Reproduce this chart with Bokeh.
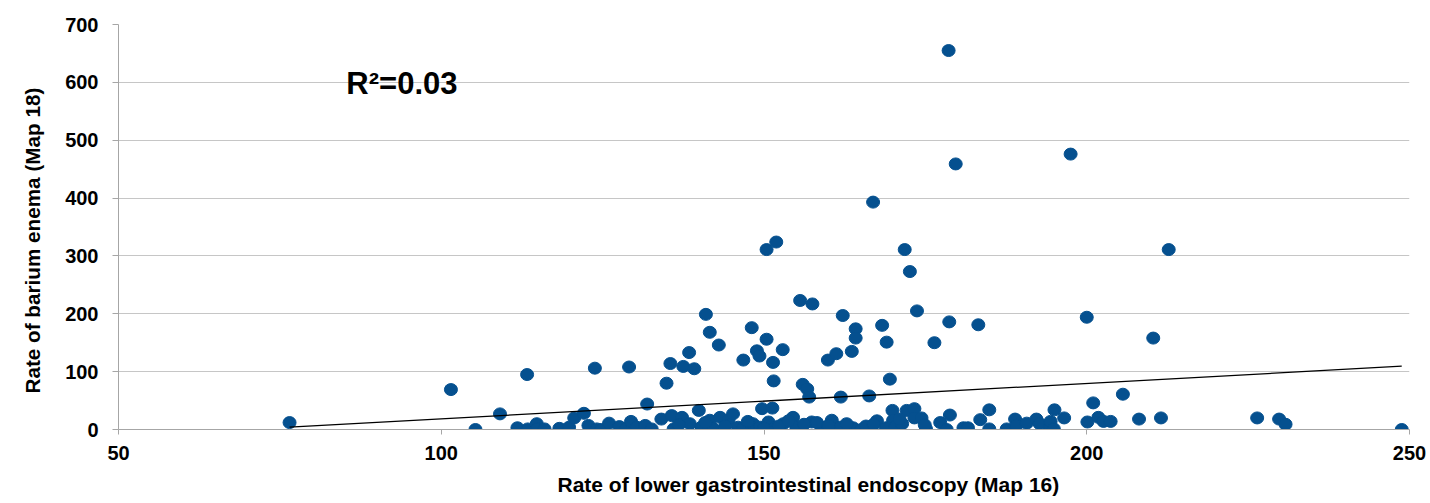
from bokeh.plotting import figure
from bokeh.models import Range1d, Label, FixedTicker, ColumnDataSource, Title
from bokeh.embed import file_html
from bokeh.resources import INLINE

# ---- data ----
lgi_rate = [76.5, 101.5, 105.3, 109.1, 111.8, 113.3, 113.4, 114.8, 114.9, 116.0,
            118.3, 119.8, 120.6, 122.1, 122.8, 123.8, 124.1, 124.8, 126.0, 127.6,
            128.7, 129.1, 129.4, 130.3, 131.6, 131.9, 132.6, 134.1, 134.9, 135.5,
            135.7, 136.0, 137.3, 137.5, 138.4, 138.5, 139.2, 139.9, 140.3, 141.0,
            141.6, 141.6, 142.1, 143.0, 143.2, 144.5, 145.2, 146.0, 146.8, 146.8,
            148.1, 148.3, 148.9, 149.3, 149.4, 149.7, 150.4, 150.4, 150.7, 151.3,
            151.4, 151.5, 151.7, 151.9, 152.9, 153.0, 154.5, 155.0, 155.6, 156.0,
            156.7, 157.0, 157.4, 157.5, 158.9, 159.9, 160.5, 161.2, 161.8, 161.9,
            162.2, 163.6, 163.8, 164.2, 164.2, 165.1, 166.3, 166.9, 167.5, 168.3,
            168.9, 169.0, 169.5, 169.9, 170.0, 170.4, 171.4, 171.8, 172.1, 172.6,
            173.3, 173.3, 173.7, 174.4, 175.1, 176.4, 177.3, 178.3, 178.6, 178.7,
            178.8, 179.7, 180.9, 181.6, 183.2, 183.5, 184.9, 184.9, 187.6, 188.9,
            189.1, 190.7, 192.2, 192.7, 194.3, 194.4, 194.9, 195.0, 196.5, 197.5,
            200.0, 200.1, 201.0, 201.8, 202.6, 203.7, 205.6, 208.1, 210.3, 211.5,
            212.7, 226.4, 229.8, 230.8, 248.8,
            136.8, 140.9, 144.0, 147.5, 150.0, 152.3, 153.8, 156.2, 158.2, 160.0,
            162.8, 165.8, 167.0, 171.0, 174.9]
barium_rate = [12, 69, 0, 27, 3, 95, 1, 10, 1, 1,
               2, 4, 20, 28, 7, 106, 1, 0, 11, 5,
               2, 108, 14, 4, 7, 44, 1, 18, 80, 114,
               24, 1, 21, 109, 133, 10, 105, 33, 4, 199,
               168, 16, 2, 146, 21, 16, 27, 4, 120, 2,
               176, 10, 136, 127, 4, 36, 156, 311, 13, 37,
               116, 84, 4, 324, 138, 10, 21, 4, 223, 78,
               70, 56, 13, 217, 4, 120, 16, 131, 4, 56,
               197, 135, 3, 174, 158, 0, 58, 393, 15, 180,
               3, 151, 87, 33, 16, 5, 10, 311, 33, 273,
               36, 20, 205, 20, 1, 150, 12, 0, 655, 186,
               25, 459, 3, 3, 181, 17, 34, 1, 1, 18,
               7, 11, 18, 10, 4, 14, 1, 34, 20, 476,
               194, 13, 46, 21, 14, 14, 61, 18, 158, 20,
               311, 20, 18, 9, 0,
               8, 12, 6, 14, 2, 6, 15, 9, 12, 7,
               10, 6, 9, 18, 8]

x_ticks = [50, 100, 150, 200, 250]
y_ticks = [0, 100, 200, 300, 400, 500, 600, 700]

trend_slope = 0.612
trend_intercept = -42.8

r2_text = "R\u00b2=0.03"
x_title = "Rate of lower gastrointestinal endoscopy (Map 16)"
y_title = "Rate of barium enema (Map 18)"

# ---- figure ----
FONT = "Liberation Sans"
MARKER = "#05508F"

p = figure(width=1430, height=503, output_backend="svg", toolbar_location=None,
           x_range=Range1d(50, 250), y_range=Range1d(0, 700),
           min_border_left=118, min_border_right=21,
           min_border_top=24, min_border_bottom=74)
p.outline_line_color = None
p.background_fill_color = "white"
p.border_fill_color = "white"

p.xgrid.grid_line_color = None
p.ygrid.grid_line_color = "#c6c6c6"
p.ygrid.grid_line_width = 1

p.xaxis.ticker = FixedTicker(ticks=x_ticks)
p.yaxis.ticker = FixedTicker(ticks=y_ticks)
for ax in (p.xaxis[0], p.yaxis[0]):
    ax.axis_line_color = "#a6a6a6"
    ax.axis_line_width = 1
    ax.major_tick_line_color = "#a6a6a6"
    ax.major_tick_in = 0
    ax.minor_tick_line_color = None
    ax.major_label_text_font = FONT
    ax.major_label_text_font_style = "bold"
    ax.major_label_text_font_size = "20px"
    ax.major_label_text_color = "black"
p.xaxis[0].major_tick_out = 5
p.xaxis[0].major_label_standoff = 11
p.yaxis[0].major_tick_out = 6
p.yaxis[0].major_label_standoff = 14

# axis titles as side titles (placed outside the axes)
p.add_layout(Title(text=x_title, align="left", offset=439, standoff=16,
                   text_font=FONT, text_font_style="bold", text_font_size="21px",
                   text_color="black"), "below")
p.add_layout(Title(text=y_title, align="left", offset=36, standoff=37,
                   text_font=FONT, text_font_style="bold", text_font_size="20.7px",
                   text_color="black"), "left")

src = ColumnDataSource(data=dict(x=lgi_rate, y=barium_rate))
p.ellipse(x="x", y="y", width=13, height=12, width_units="screen", height_units="screen",
          fill_color=MARKER, line_color=MARKER, source=src)

tx = [min(lgi_rate), max(lgi_rate)]
ty = [trend_slope * v + trend_intercept for v in tx]
p.line(tx, ty, line_color="black", line_width=1.3)

p.add_layout(Label(x=85.3, y=598, text=r2_text, text_font=FONT, text_font_style="bold",
                   text_font_size="31px", text_color="black", text_baseline="alphabetic",
                   text_align="left"))

open("out.html", "w").write(file_html(p, INLINE))
